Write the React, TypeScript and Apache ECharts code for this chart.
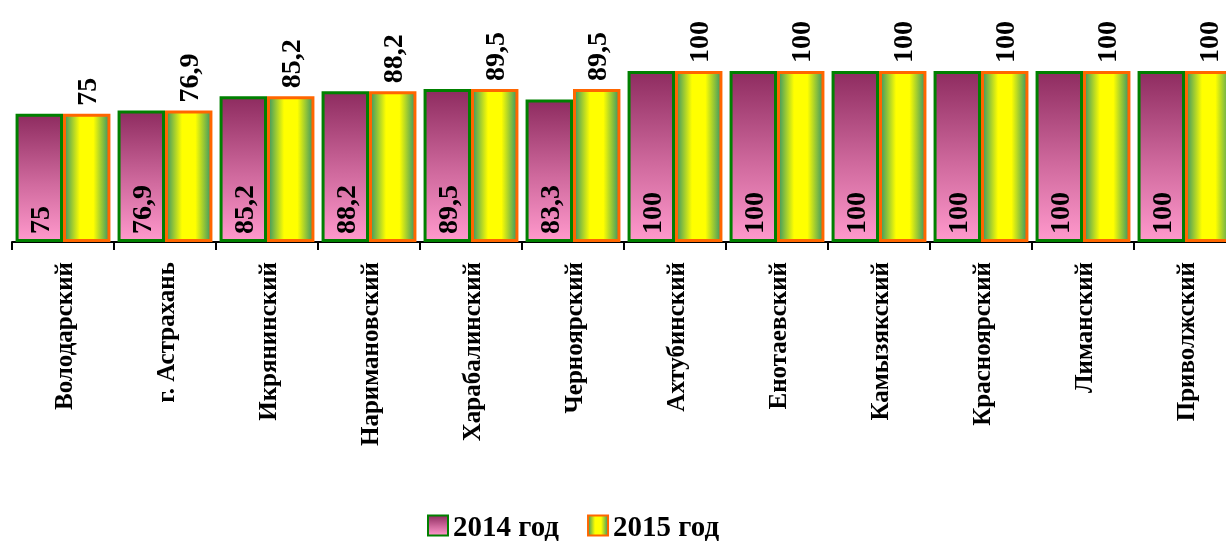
import React, { useEffect, useRef } from "react";
import * as echarts from "echarts";

const categories = [
  "Володарский",
  "г. Астрахань",
  "Икрянинский",
  "Наримановский",
  "Харабалинский",
  "Черноярский",
  "Ахтубинский",
  "Енотаевский",
  "Камызякский",
  "Красноярский",
  "Лиманский",
  "Приволжский",
];
const values2014 = [75, 76.9, 85.2, 88.2, 89.5, 83.3, 100, 100, 100, 100, 100, 100];
const values2015 = [75, 76.9, 85.2, 88.2, 89.5, 89.5, 100, 100, 100, 100, 100, 100];
const seriesNames = ["2014 год", "2015 год"];

const FONT = "'Times New Roman', 'Liberation Serif', serif";
const fmt = (v: number) => String(v).replace(".", ",");

export default function App() {
  const ref = useRef<HTMLDivElement>(null);
  useEffect(() => {
    document.body.style.margin = "0";
    document.body.style.overflow = "hidden";
    const chart = echarts.init(ref.current!, null, { renderer: "svg" });
    const pink = new echarts.graphic.LinearGradient(0, 0, 0, 1, [
      { offset: 0, color: "#8E2C60" },
      { offset: 0.55, color: "#D06A9E" },
      { offset: 1, color: "#FF99CC" },
    ]);
    const yellow = new echarts.graphic.LinearGradient(0, 0, 1, 0, [
      { offset: 0, color: "#3C9664" },
      { offset: 0.35, color: "#FFFF00" },
      { offset: 0.65, color: "#FFFF00" },
      { offset: 1, color: "#3C9664" },
    ]);
    chart.setOption({
      animation: false,
      grid: { left: 12, right: 4, top: 71, height: 171 },
      legend: {
        left: 422,
        top: 506,
        itemWidth: 20,
        itemHeight: 20,
        itemGap: 28,
        icon: "rect",
        textStyle: { fontFamily: FONT, fontWeight: "bold", fontSize: 29, lineHeight: 29, color: "#000" },
        data: seriesNames,
      },
      xAxis: {
        type: "category",
        data: categories,
        axisLine: { lineStyle: { color: "#000", width: 2 } },
        axisTick: { show: true, length: 8, lineStyle: { color: "#000", width: 2 } },
        axisLabel: {
          interval: 0,
          rotate: 90,
          margin: 20,
          fontFamily: FONT,
          fontWeight: "bold",
          fontSize: 25,
          color: "#000",
        },
      },
      yAxis: { type: "value", min: 0, max: 100, show: false, splitLine: { show: false } },
      series: [
        {
          name: seriesNames[0],
          type: "bar",
          data: values2014,
          barGap: "0%",
          barCategoryGap: "7%",
          itemStyle: { color: pink, borderColor: "#008000", borderWidth: 3 },
          label: {
            show: true,
            position: "insideBottom",
            rotate: 90,
            align: "left",
            verticalAlign: "middle",
            distance: 8,
            formatter: (p: any) => fmt(p.value),
            fontFamily: FONT,
            fontWeight: "bold",
            fontSize: 28,
            color: "#000",
          },
        },
        {
          name: seriesNames[1],
          type: "bar",
          data: values2015,
          itemStyle: { color: yellow, borderColor: "#FF6600", borderWidth: 3 },
          label: {
            show: true,
            position: "top",
            rotate: 90,
            align: "left",
            verticalAlign: "middle",
            distance: 8,
            formatter: (p: any) => fmt(p.value),
            fontFamily: FONT,
            fontWeight: "bold",
            fontSize: 28,
            color: "#000",
          },
        },
      ],
    });
    return () => chart.dispose();
  }, []);
  return (
    <div
      ref={ref}
      style={{ position: "fixed", left: 0, top: 0, width: 1240, height: 543 }}
    />
  );
}
